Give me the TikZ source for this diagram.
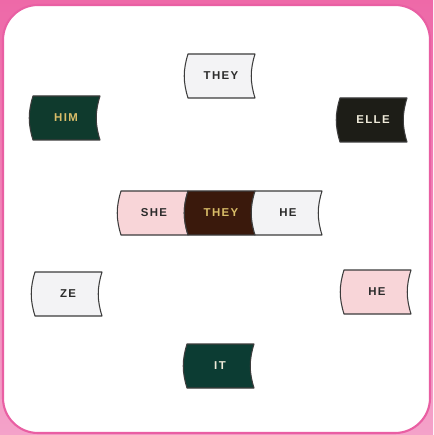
\documentclass[tikz,border=0pt]{standalone}
\usepackage{tikz}
\usepackage{fontspec}
\usetikzlibrary{positioning}
\newfontfamily\tagfont[LetterSpace=12]{Liberation Sans}
\definecolor{framepink}{HTML}{E95FA3}
\definecolor{bgtop}{HTML}{EE69A8}
\definecolor{bgbottom}{HTML}{F4A2C9}
\definecolor{tagpink}{HTML}{F8D5D8}
\definecolor{tagwhite}{HTML}{F3F3F5}
\definecolor{himgreen}{HTML}{0F3A2D}
\definecolor{itgreen}{HTML}{0C3C33}
\definecolor{ellenight}{HTML}{1D1D17}
\definecolor{theybrown}{HTML}{3A190C}
\definecolor{gold}{HTML}{D9BD68}
\definecolor{paleink}{HTML}{EFEBDA}
\definecolor{ink}{HTML}{2B2B2B}
\definecolor{edge}{HTML}{3C3C3C}

\tikzset{
  tagshape/.style={fill=#1, draw=edge, line width=0.6pt, line join=round},
  taglabel/.style={text=#1, font=\tagfont\bfseries\fontsize{6.5}{7}\selectfont, inner sep=0pt},
}

% flag shaped tag: name, x, y, fill, text colour, label
\newcommand{\pronountag}[6]{%
  \draw[tagshape=#4] (#2-33,#3-22) -- (#2+34,#3-22)
    .. controls (#2+29,#3-6) and (#2+29,#3+6) .. (#2+34,#3+22)
    -- (#2-33,#3+22)
    .. controls (#2-38,#3+6) and (#2-38,#3-6) .. (#2-33,#3-22) -- cycle;
  \node[taglabel=#5] (#1) at (#2,#3) {#6};
}

\begin{document}
\begin{tikzpicture}[x=0.02cm, y=-0.02cm]
    \useasboundingbox (0,0) rectangle (433,435);
    \shade[top color=bgtop, bottom color=bgbottom] (0,0) rectangle (433,435);
    \draw[fill=white, draw=framepink, line width=1.2pt, rounded corners=0.7cm] (3,5) rectangle (430,433);

    % outer ring
    \pronountag{theyTop}{221}{76}{tagwhite}{ink}{THEY}
    \pronountag{him}{66}{118}{himgreen}{gold}{HIM}
    \pronountag{elle}{373}{120}{ellenight}{paleink}{ELLE}
    \pronountag{ze}{68}{294}{tagwhite}{ink}{ZE}
    \pronountag{heRight}{377}{292}{tagpink}{ink}{HE}
    \pronountag{it}{220}{366}{itgreen}{paleink}{IT}

    % middle row
    \pronountag{she}{154}{213}{tagpink}{ink}{SHE}
    \pronountag{theyMid}{221}{213}{theybrown}{gold}{THEY}
    \pronountag{heMid}{288}{213}{tagwhite}{ink}{HE}
\end{tikzpicture}
\end{document}
